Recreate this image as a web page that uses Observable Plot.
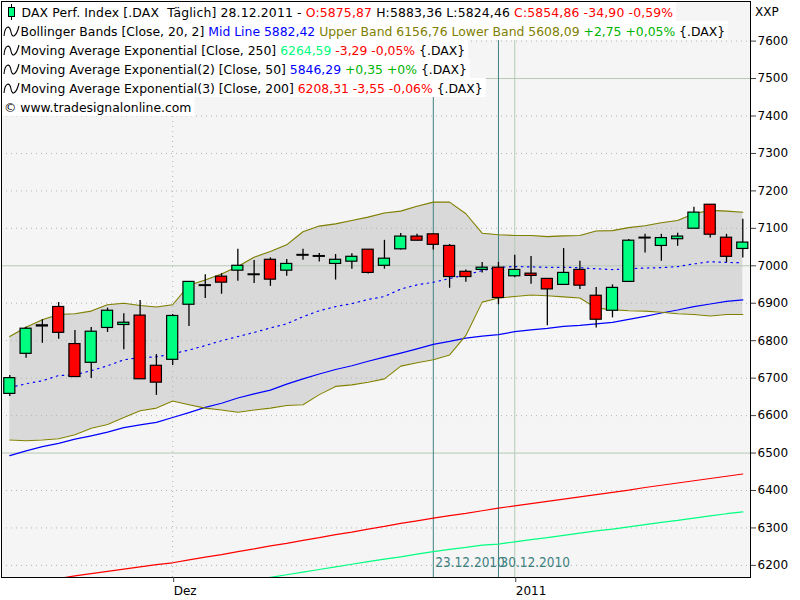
<!DOCTYPE html>
<html><head><meta charset="utf-8">
<script src="https://cdn.jsdelivr.net/npm/d3@7"></script>
<script src="https://cdn.jsdelivr.net/npm/@observablehq/plot@0.6"></script>
<style>
body{margin:0;background:#fff;}
#chart svg{display:block;}
</style></head><body><div id="chart"></div>
<script>
// ---- data ----
const dates = ["17.11.2010","18.11.2010","19.11.2010","22.11.2010","23.11.2010","24.11.2010","25.11.2010","26.11.2010","29.11.2010","30.11.2010",
"01.12.2010","02.12.2010","03.12.2010","06.12.2010","07.12.2010","08.12.2010","09.12.2010","10.12.2010","13.12.2010","14.12.2010",
"15.12.2010","16.12.2010","17.12.2010","20.12.2010","21.12.2010","22.12.2010","23.12.2010","27.12.2010","28.12.2010","29.12.2010",
"30.12.2010","03.01.2011","04.01.2011","05.01.2011","06.01.2011","07.01.2011","10.01.2011","11.01.2011","12.01.2011","13.01.2011",
"14.01.2011","17.01.2011","18.01.2011","19.01.2011","20.01.2011","21.01.2011"];
const open  = [6658,6765,6838,6890,6791,6741,6834,6842,6867,6733,6749,6896,6946,6971,6987,6975,7016,6987,7027,7024,7005,7011,7043,7000,7044,7078,7084,7053,6984,6989,6995,6972,6979,6965,6949,6989,6920,6880,6957,7073,7053,7071,7099,7163,7075,7045];
const high  = [6707,6836,6856,6902,6827,6835,6887,6872,6907,6763,6870,6958,6976,6979,7044,7014,7021,7017,7044,7033,7030,7032,7043,7068,7086,7084,7084,7057,6989,7009,7009,7028,7025,6965,7046,7012,6942,6949,7070,7084,7084,7087,7156,7163,7084,7124];
const low   = [6651,6753,6793,6804,6703,6699,6822,6776,6697,6654,6734,6838,6913,6924,6959,6953,6945,6972,7015,7010,6962,6991,6978,6991,7042,7067,7042,6940,6956,6981,6896,6968,6951,6840,6949,6937,6834,6861,6957,7034,7012,7052,7099,7074,7009,7021];
const close = [6700,6832,6841,6821,6703,6824,6880,6848,6697,6688,6866,6957,6948,6955,7000,6977,6963,7005,7029,7026,7016,7024,6981,7019,7078,7067,7056,6970,6970,6995,6914,6989,6973,6937,6981,6947,6856,6941,7067,7075,7074,7078,7142,7083,7024,7062];
const bbUpper = [6811,6836,6856,6870,6872,6879,6896,6900,6894,6890,6896,6948,6962,6978,6998,7023,7038,7056,7091,7106,7112,7121,7130,7141,7146,7159,7170,7170,7139,7087,7083,7081,7081,7078,7080,7081,7093,7094,7102,7107,7115,7121,7139,7148,7146,7143];
const bbMid   = [6675,6685,6693,6707,6709,6720,6733,6749,6755,6757,6765,6775,6787,6800,6811,6822,6834,6845,6864,6880,6891,6899,6910,6918,6938,6949,6956,6966,6976,6987,6996,6998,6997,6996,6996,6995,6992,6990,6992,6994,6995,6998,7005,7011,7009,7008];
const bbLower = [6535,6533,6535,6538,6549,6566,6576,6595,6613,6620,6639,6629,6620,6615,6609,6615,6620,6627,6629,6656,6678,6682,6689,6698,6732,6741,6749,6762,6814,6903,6914,6918,6922,6920,6917,6914,6887,6883,6880,6879,6876,6872,6870,6866,6870,6870];
const ema50  = [6493,6506,6517,6526,6537,6546,6556,6568,6575,6582,6595,6608,6622,6633,6647,6658,6668,6684,6698,6711,6723,6733,6745,6756,6767,6778,6790,6798,6807,6812,6816,6824,6829,6833,6838,6841,6845,6849,6857,6865,6874,6882,6891,6898,6905,6909];
const ema200 = [6142,6149,6157,6165,6172,6178,6184,6190,6196,6202,6207,6215,6222,6229,6237,6244,6252,6259,6267,6274,6282,6289,6297,6304,6312,6319,6326,6333,6339,6346,6353,6359,6365,6371,6377,6383,6389,6395,6401,6408,6414,6420,6426,6432,6438,6444];
const ema250 = [null,null,null,null,null,null,null,null,null,null,null,null,null,null,null,6161,6168,6175,6182,6189,6196,6203,6210,6217,6223,6230,6237,6243,6248,6254,6257,6263,6269,6274,6280,6286,6292,6297,6303,6309,6315,6320,6326,6332,6338,6343];
const yTicks = [6200,6300,6400,6500,6600,6700,6800,6900,7000,7100,7200,7300,7400,7500,7600];
const xTickDates = ["01.12.2010","03.01.2011"];
const xTickLabels = ["Dez","2011"];
const monthStart = ["01.12.2010"];
const yearStart = ["03.01.2011"];
const markerDates = ["23.12.2010","30.12.2010"];
const headerRows = [
  [["DAX Perf. Index [.DAX  Täglich] 28.12.2011 - ","#000"],["O:5875,87","#ff0000"],[" H:5883,36 L:5824,46 ","#000"],["C:5854,86 -34,90 -0,59%","#ff0000"]],
  [["Bollinger Bands [Close, 20, 2] ","#000"],["Mid Line 5882,42","#0000ff"],[" Upper Band 6156,76 Lower Band 5608,09","#808000"],[" +2,75 +0,05%","#00b400"],[" {.DAX}","#000"]],
  [["Moving Average Exponential [Close, 250] ","#000"],["6264,59","#00ff80"],[" -3,29 -0,05%","#ff0000"],[" {.DAX}","#000"]],
  [["Moving Average Exponential(2) [Close, 50] ","#000"],["5846,29","#0000ff"],[" +0,35 +0%","#00b400"],[" {.DAX}","#000"]],
  [["Moving Average Exponential(3) [Close, 200] ","#000"],["6208,31 -3,55 -0,06%","#ff0000"],[" {.DAX}","#000"]],
  [["© www.tradesignalonline.com","#000"]]
];
const unitLabel = "XXP";

// ---- build ----
const FONT = '"DejaVu Sans",Verdana,sans-serif';
const FONT_NARROW = '"DejaVu Sans Condensed","Liberation Sans Narrow","Liberation Sans",sans-serif';
const idxOf = d => dates.indexOf(d) + 1;
const rows = dates.map((d, k) => ({i: k + 1, date: d, o: open[k], h: high[k], l: low[k], c: close[k],
  up: bbUpper[k], mid: bbMid[k], lo: bbLower[k], e50: ema50[k], e200: ema200[k], e250: ema250[k]}));
const bodyFill = r => Math.abs(r.c - r.o) <= 3 ? "#000" : (r.c > r.o ? "#00ff80" : "#ff0000");
const W = 0.34;

const plot = Plot.plot({
  width: 800, height: 600,
  marginLeft: 1, marginRight: 50, marginTop: 1, marginBottom: 23,
  style: {fontFamily: FONT, fontSize: "12px", background: "#fff", overflow: "visible"},
  x: {type: "linear", domain: [0.4905, 46.473], axis: null},
  y: {domain: [6167.7, 7705.7], axis: null},
  marks: [
    Plot.frame({fill: "#f5f5f5"}),
    Plot.areaY(rows, {x: "i", y1: "lo", y2: "up", fill: "#d9d9d9"}),
    Plot.ruleY(yTicks.filter(v => v % 500 !== 0), {stroke: "#b4b4b4", strokeDasharray: "1,4"}),
    Plot.ruleY(yTicks.filter(v => v % 500 === 0), {stroke: "#b5c9b5"}),
    Plot.ruleX(monthStart, {x: d => idxOf(d), stroke: "#a8bca8", strokeDasharray: "1,4", ariaLabel: "vgrid"}),
    Plot.ruleX(yearStart, {x: d => idxOf(d), stroke: "#b5c9b5"}),
    Plot.ruleX(markerDates, {x: d => idxOf(d), stroke: "#408080"}),
    Plot.text(markerDates, {x: d => idxOf(d), frameAnchor: "bottom", text: d => d, textAnchor: "start", dx: 2, dy: -11,
      fill: "#3d7f7f", fontSize: 13.5, fontFamily: FONT_NARROW}),
    Plot.lineY(rows, {x: "i", y: "e200", stroke: "#ff0000", strokeWidth: 1.2, clip: true}),
    Plot.lineY(rows.filter(r => r.e250 != null), {x: "i", y: "e250", stroke: "#00ff80", strokeWidth: 1.2, clip: true}),
    Plot.lineY(rows, {x: "i", y: "e50", stroke: "#0000ff", strokeWidth: 1.2}),
    Plot.lineY(rows, {x: "i", y: "up", stroke: "#808000", strokeWidth: 1.1}),
    Plot.lineY(rows, {x: "i", y: "lo", stroke: "#808000", strokeWidth: 1.1}),
    Plot.lineY(rows, {x: "i", y: "mid", stroke: "#0000ff", strokeWidth: 1.2, strokeDasharray: "1.5,4.5"}),
    Plot.ruleX(rows, {x: "i", y1: "l", y2: "h", stroke: "#000", strokeWidth: 1.3}),
    Plot.rect(rows, {x1: r => r.i - W, x2: r => r.i + W, y1: r => Math.min(r.o, r.c), y2: r => Math.max(r.o, r.c),
      fill: bodyFill, stroke: "#000", strokeWidth: 1.2}),
    Plot.frame({stroke: "#000"}),
    Plot.axisY(yTicks, {anchor: "right", label: null, tickSize: 5, tickPadding: 2, tickFormat: d => String(d), fontSize: 12, stroke: "#404040", color: "#000"}),
    Plot.axisX(xTickDates.map(idxOf), {anchor: "bottom", label: null, tickSize: 5, tickPadding: 4, tickFormat: (d, k) => xTickLabels[k], textAnchor: "start", dx: 1, fontSize: 12, stroke: "#404040"})
  ]
});
document.getElementById("chart").appendChild(plot);

// ---- header legend (text rows drawn over the plot) ----
const NS = "http://www.w3.org/2000/svg";
const svg = d3.select(plot);
const beforeNode = plot.querySelector('[aria-label="vgrid"]');
const hgNode = document.createElementNS(NS, "g");
plot.insertBefore(hgNode, beforeNode);
const hg = d3.select(hgNode).attr("font-family", FONT).attr("font-size", 12.4).attr("text-anchor", "start");
headerRows.forEach((segs, k) => {
  const y0 = 2 + 19 * k;
  const x0 = k === 0 ? 21.5 : (k < 5 ? 20.5 : 4);
  const rect = hg.append("rect").attr("x", 2).attr("y", y0).attr("height", 19).attr("fill", "#fff");
  const t = hg.append("text").attr("x", x0).attr("y", y0 + 10.5).attr("dy", "0.35em")
    .attr("text-anchor", "start").style("white-space", "pre");
  if (k === 0) t.attr("letter-spacing", 0.15);
  segs.forEach(([s, col]) => t.append("tspan").attr("fill", col).text(s));
  const w = t.node().getComputedTextLength();
  rect.attr("width", x0 + w + 3 - 2);
  if (k === 0) {
    hg.append("line").attr("x1", 11.5).attr("x2", 11.5).attr("y1", y0 + 2).attr("y2", y0 + 18).attr("stroke", "#000");
    hg.append("rect").attr("x", 8.5).attr("y", y0 + 5.5).attr("width", 6).attr("height", 9).attr("fill", "#00ff80").attr("stroke", "#000");
  } else if (k < 5) {
    const c = y0 + 10;
    hg.append("path").attr("d", `M4,${c+5} C5,${c-6} 10,${c-6} 11,${c+1} C12,${c+7} 16,${c+7} 19,${c-5}`)
      .attr("fill", "none").attr("stroke", "#000").attr("stroke-width", 1.1);
  }
});
svg.append("text").attr("x", 755).attr("y", 12).attr("dy", "0.35em").attr("text-anchor", "start")
  .attr("font-family", FONT).attr("font-size", 12).text(unitLabel);
</script></body></html>
